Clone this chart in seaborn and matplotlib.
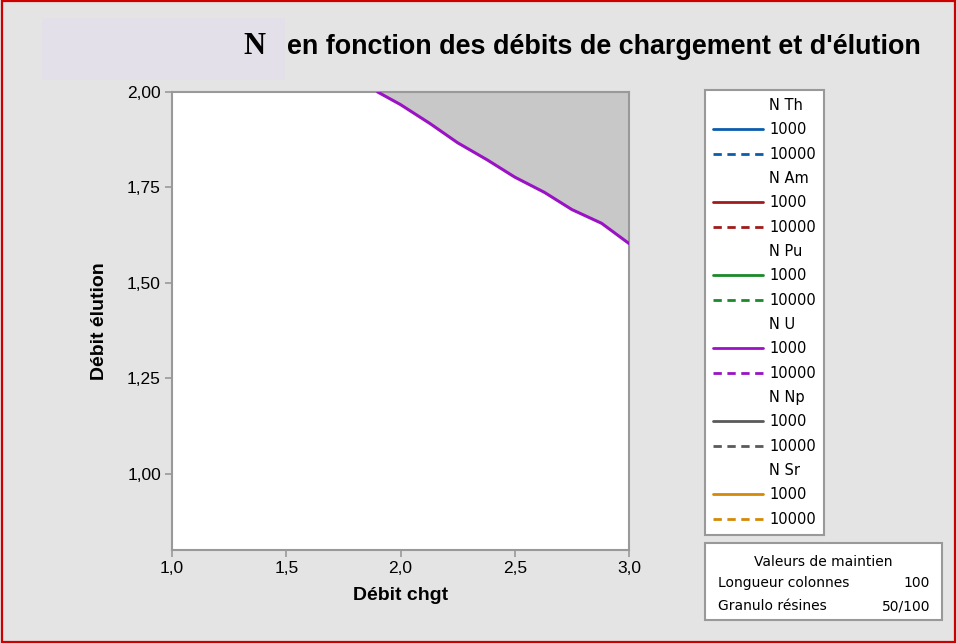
import matplotlib
matplotlib.use("Agg")
import matplotlib.pyplot as plt
import seaborn as sns
import pandas as pd
import numpy as np
from matplotlib.lines import Line2D
from matplotlib.patches import Rectangle
from matplotlib.ticker import FuncFormatter

# ---- data ----
debit_chgt = [1.90, 2.00, 2.13, 2.25, 2.38, 2.50, 2.63, 2.75, 2.88, 3.00]
debit_elution_U1000 = [2.000, 1.967, 1.917, 1.867, 1.822, 1.777, 1.737, 1.692, 1.656, 1.603]
series_names = ["N Th", "N Am", "N Pu", "N U", "N Np", "N Sr"]
series_colors = ["#0b5cad", "#a01b1b", "#1a8a2a", "#9a12c4", "#5a5a5a", "#d48a06"]
levels = ["1000", "10000"]
x_ticks = [1.0, 1.5, 2.0, 2.5, 3.0]
y_ticks = [1.00, 1.25, 1.50, 1.75, 2.00]
hold_title = "Valeurs de maintien"
hold_names = ["Longueur colonnes", "Granulo résines"]
hold_values = ["100", "50/100"]

sns.set_style("white")
plt.rcParams["font.family"] = ["DejaVu Sans"]
plt.rcParams["text.color"] = "black"
plt.rcParams["axes.labelcolor"] = "black"
plt.rcParams["xtick.labelcolor"] = "black"
plt.rcParams["ytick.labelcolor"] = "black"

AX_FONT = ["Liberation Sans", "DejaVu Sans"]

fig = plt.figure(figsize=(9.57, 6.43), dpi=100)
fig.patch.set_facecolor("#e4e4e4")

# red border
fig.patches.append(Rectangle((0.002, 0.002), 0.996, 0.996, transform=fig.transFigure,
                             fill=False, edgecolor="#cc0000", linewidth=1.6, zorder=10))
# lavender title box
fig.patches.append(Rectangle((42/957, 1-80/643), 243/957, 62/643, transform=fig.transFigure,
                             facecolor="#e4e0ea", edgecolor="none", zorder=0))

ax = fig.add_axes([172/957, 1-550/643, 457/957, 458/643])
ax.set_facecolor("white")

df = pd.DataFrame({"x": debit_chgt, "y": debit_elution_U1000})
ax.fill_between(df["x"], df["y"], 2.0, color="#c8c8c8", linewidth=0, zorder=1)
sns.lineplot(data=df, x="x", y="y", ax=ax, color=series_colors[3], linewidth=2.2,
             zorder=3, legend=False)

ax.set_xlim(1.0, 3.0)
ax.set_ylim(0.80, 2.00)
ax.set_xticks(x_ticks)
ax.set_yticks(y_ticks)
ax.xaxis.set_major_formatter(FuncFormatter(lambda v, p: f"{v:.1f}".replace(".", ",")))
ax.yaxis.set_major_formatter(FuncFormatter(lambda v, p: f"{v:.2f}".replace(".", ",")))
ax.tick_params(axis="both", which="both", direction="out", length=5, width=1.2,
               color="#999999", labelsize=12.5, pad=3, bottom=True, left=True)
for lbl in ax.get_xticklabels() + ax.get_yticklabels():
    lbl.set_family(AX_FONT)
for s in ax.spines.values():
    s.set_color("#999999")
    s.set_linewidth(1.5)
ax.set_xlabel("Débit chgt", fontsize=14, fontweight="bold", labelpad=8, family=AX_FONT)
ax.set_ylabel("Débit élution", fontsize=14, fontweight="bold", labelpad=14, family=AX_FONT)

# title
fig.text(243/957, 1-47/643, "N", fontsize=22, fontweight="bold", family=["Liberation Serif", "DejaVu Serif"],
         ha="left", va="center")
fig.text(287/957, 1-47/643, "en fonction des débits de chargement et d'élution", fontsize=19.4,
         fontweight="bold", family=["Liberation Sans Narrow", "Liberation Sans", "DejaVu Sans"],
         ha="left", va="center")

# legend
handles, labels = [], []
for name, col in zip(series_names, series_colors):
    handles.append(Line2D([], [], color="none"))
    labels.append(name)
    handles.append(Line2D([], [], color=col, linewidth=2, linestyle="-"))
    labels.append(levels[0])
    handles.append(Line2D([], [], color=col, linewidth=2, linestyle=(0, (3, 2))))
    labels.append(levels[1])
leg = fig.legend(handles, labels, loc="upper left", bbox_to_anchor=(705/957, 1-90/643),
                 bbox_transform=fig.transFigure, frameon=True, fancybox=False, framealpha=1,
                 facecolor="white", edgecolor="#999999", fontsize=10.5, handlelength=3.4,
                 handletextpad=0.45, labelspacing=0.64, borderpad=0.55, borderaxespad=0)
leg.get_frame().set_linewidth(1.5)

# hold values box
fig.patches.append(Rectangle((705/957, 1-620/643), 237/957, 77/643, transform=fig.transFigure,
                             facecolor="white", edgecolor="#999999", linewidth=1.5, zorder=5))
fig.text(823/957, 1-562/643, hold_title, fontsize=10, ha="center", va="center", zorder=6)
for i, (n, v) in enumerate(zip(hold_names, hold_values)):
    yy = 1 - (583 + 23*i)/643
    fig.text(718/957, yy, n, fontsize=10, ha="left", va="center", zorder=6)
    fig.text(930/957, yy, v, fontsize=10, ha="right", va="center", zorder=6)

fig.savefig("out.png", dpi=100, facecolor=fig.get_facecolor())
